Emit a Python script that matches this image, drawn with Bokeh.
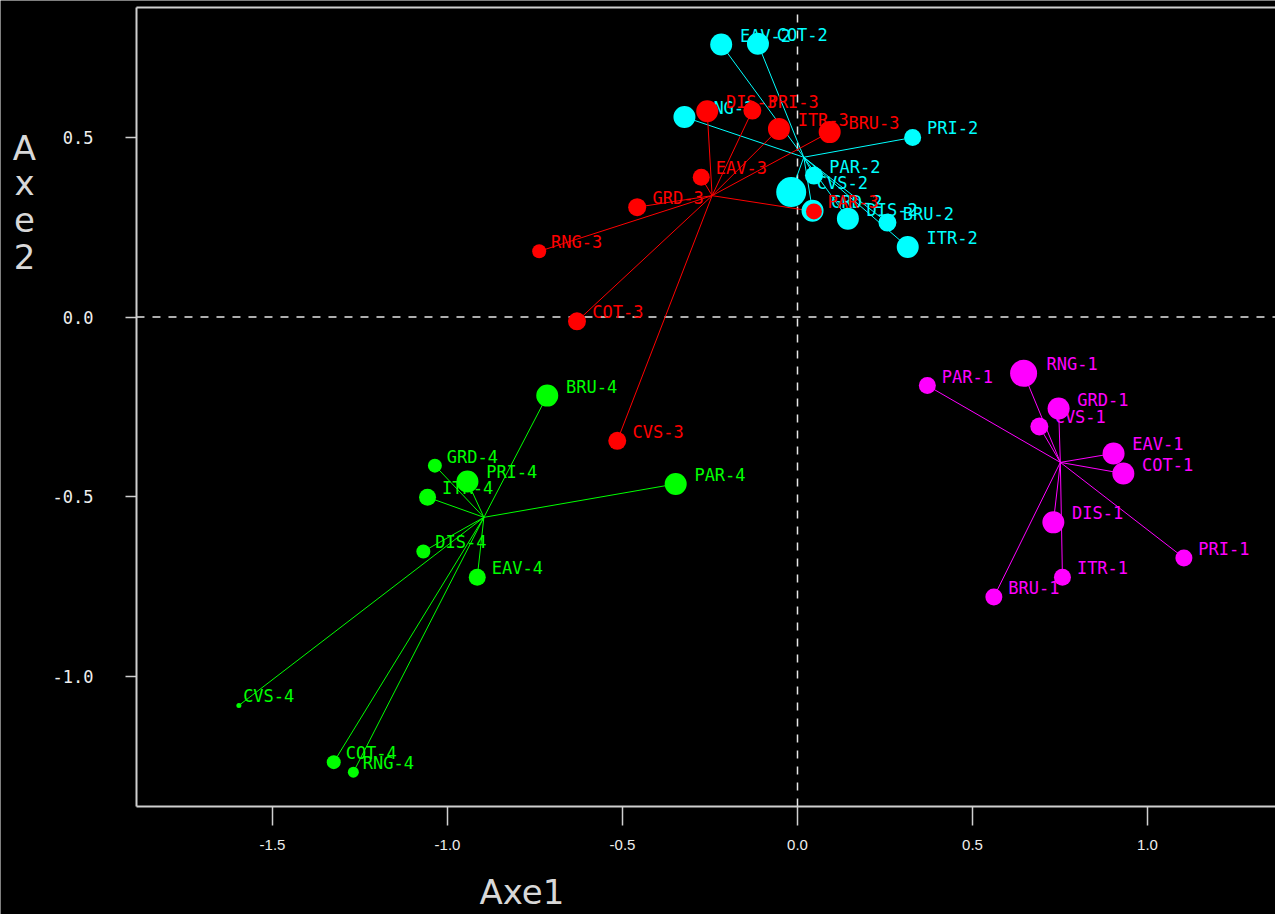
import numpy as np
from bokeh.plotting import figure
from bokeh.models import (ColumnDataSource, CDSView, IndexFilter, Label,
                          FixedTicker, Range1d)
from bokeh.core.properties import value
from bokeh.embed import file_html
from bokeh.resources import INLINE

# ---------------- data ----------------
categories = ["BRU", "COT", "CVS", "DIS", "EAV", "GRD", "ITR", "PAR", "PRI", "RNG"]
groups = ["1", "2", "3", "4"]

g1_x = [0.561, 0.931, 0.691, 0.731, 0.903, 0.746, 0.757, 0.371, 1.104, 0.646]
g1_y = [-0.780, -0.436, -0.305, -0.572, -0.380, -0.255, -0.725, -0.191, -0.671, -0.157]
g1_w = [1.7, 2.2, 1.8, 2.2, 2.2, 2.2, 1.7, 1.7, 1.7, 2.7]

g2_x = [0.257, -0.113, -0.018, 0.144, -0.218, 0.043, 0.315, 0.047, 0.329, -0.323]
g2_y = [0.263, 0.761, 0.348, 0.274, 0.759, 0.296, 0.195, 0.394, 0.500, 0.557]
g2_w = [1.8, 2.2, 3.0, 2.2, 2.2, 2.2, 2.2, 1.8, 1.7, 2.2]

g3_x = [0.092, -0.630, -0.515, -0.258, -0.275, -0.458, -0.053, 0.047, -0.129, -0.738]
g3_y = [0.515, -0.012, -0.345, 0.573, 0.389, 0.306, 0.524, 0.294, 0.575, 0.183]
g3_w = [2.2, 1.8, 1.8, 2.2, 1.7, 1.8, 2.2, 1.6, 1.8, 1.4]

g4_x = [-0.715, -1.325, -1.596, -1.069, -0.915, -1.036, -1.057, -0.348, -0.943, -1.269]
g4_y = [-0.219, -1.240, -1.082, -0.653, -0.725, -0.414, -0.502, -0.465, -0.458, -1.268]
g4_w = [2.2, 1.4, 0.5, 1.4, 1.7, 1.4, 1.7, 2.2, 2.2, 1.1]

center_x = [0.751, 0.018, -0.244, -0.896]
center_y = [-0.405, 0.445, 0.338, -0.558]

x_ticks = [-1.5, -1.0, -0.5, 0.0, 0.5, 1.0]
x_tick_labels = ["-1.5", "-1.0", "-0.5", "0.0", "0.5", "1.0"]
y_ticks = [-1.0, -0.5, 0.0, 0.5]
y_tick_labels = ["-1.0", "-0.5", "0.0", "0.5"]

x_title = "Axe1"
y_title = "Axe2"

# ---------------- styling / layout constants ----------------
colors = ["#ff00ff", "#00ffff", "#ff0000", "#00ff00"]
axis_col = "#cfcfcf"
title_col = "#d8d8d8"
W, H = 1275, 914
# whole canvas is the frame; the axes are pinned at the plotting-box edges
X_START, X_END = -2.2771, 1.3657
Y_START, Y_END = -1.6643, 0.8816
BOX_L, BOX_B, BOX_T = -1.8886, -1.3635, 0.862
TXT_SHIFT = 13   # correction for where the label baseline lands

p = figure(width=W, height=H, output_backend="svg", toolbar_location=None,
           x_range=Range1d(X_START, X_END), y_range=Range1d(Y_START, Y_END),
           min_border=0, min_border_left=0, min_border_right=0,
           min_border_top=0, min_border_bottom=0,
           background_fill_color="black", border_fill_color="black",
           outline_line_color=None)
p.grid.visible = False

# axes
xa, ya = p.xaxis[0], p.yaxis[0]
xa.fixed_location = BOX_B
ya.fixed_location = BOX_L
xa.bounds = (BOX_L, X_END)
ya.bounds = (BOX_B, BOX_T)
xa.ticker = FixedTicker(ticks=x_ticks)
xa.major_label_overrides = {t: l for t, l in zip(x_ticks, x_tick_labels)}
ya.ticker = FixedTicker(ticks=y_ticks)
ya.major_label_overrides = {t: l for t, l in zip(y_ticks, y_tick_labels)}
for ax in (xa, ya):
    ax.axis_line_color = axis_col
    ax.axis_line_width = 2
    ax.major_tick_line_color = axis_col
    ax.major_tick_line_width = 1.5
    ax.major_tick_in = 0
    ax.minor_tick_line_color = None
    ax.major_label_text_color = "#eeeeee"
xa.major_tick_out = 19
xa.major_label_standoff = 14
xa.major_label_text_font = "Liberation Sans"
xa.major_label_text_font_size = "15px"
ya.major_tick_out = 11
ya.major_label_standoff = 32
ya.major_label_text_font = "DejaVu Sans Mono"
ya.major_label_text_font_size = "17px"

# zero reference lines and top edge of the box
p.line(x=[BOX_L, X_END], y=[0, 0], line_color="#e6e6e6", line_width=1.5, line_dash="8 8")
p.line(x=[0, 0], y=[BOX_B, BOX_T], line_color="#e6e6e6", line_width=1.5, line_dash="8 8")
p.line(x=[BOX_L, X_END], y=[BOX_T, BOX_T], line_color=axis_col, line_width=2)

# build sources
gx = [g1_x, g2_x, g3_x, g4_x]
gy = [g1_y, g2_y, g3_y, g4_y]
gw = [g1_w, g2_w, g3_w, g4_w]
sources = []
for k in range(4):
    sizes = [10 * w for w in gw[k]]
    src = ColumnDataSource(dict(
        x=gx[k], y=gy[k],
        cx=[center_x[k]] * len(categories), cy=[center_y[k]] * len(categories),
        size=sizes, xo=[0.85 * s for s in sizes],
        label=[f"{c}-{groups[k]}" for c in categories]))
    sources.append(src)

# star segments first
for k in range(4):
    p.segment(x0="cx", y0="cy", x1="x", y1="y", source=sources[k],
              line_color=colors[k], line_width=1)

# points and labels, interleaved per point
for k in range(4):
    for i in range(len(categories)):
        view = CDSView(filter=IndexFilter([i]))
        p.scatter(x="x", y="y", size="size", source=sources[k], view=view,
                  fill_color=colors[k], line_color=None)
        p.text(x="x", y="y", text="label", source=sources[k], view=view,
               x_offset="xo", y_offset=-9, text_color=colors[k],
               text_font=value("DejaVu Sans Mono"), text_font_size="17px",
               text_align="left", text_baseline="middle")

# axis titles (screen units, measured from the bottom-left corner of the canvas)
p.add_layout(Label(x=479, y=H - 904 + TXT_SHIFT, x_units="screen", y_units="screen",
                   text=x_title, text_align="left", text_baseline="alphabetic",
                   text_font="DejaVu Sans", text_font_size="34px", text_color=title_col))
letter_base = [160.5, 195.8, 232.0, 268.6]   # baselines, pixels from the top of the page
for ch, yb in zip(y_title, letter_base):
    p.add_layout(Label(x=24, y=H - yb + TXT_SHIFT, x_units="screen", y_units="screen",
                       text=ch, text_align="center", text_baseline="alphabetic",
                       text_font="DejaVu Sans", text_font_size="34px", text_color=title_col))

open("out.html", "w").write(file_html(p, INLINE))
